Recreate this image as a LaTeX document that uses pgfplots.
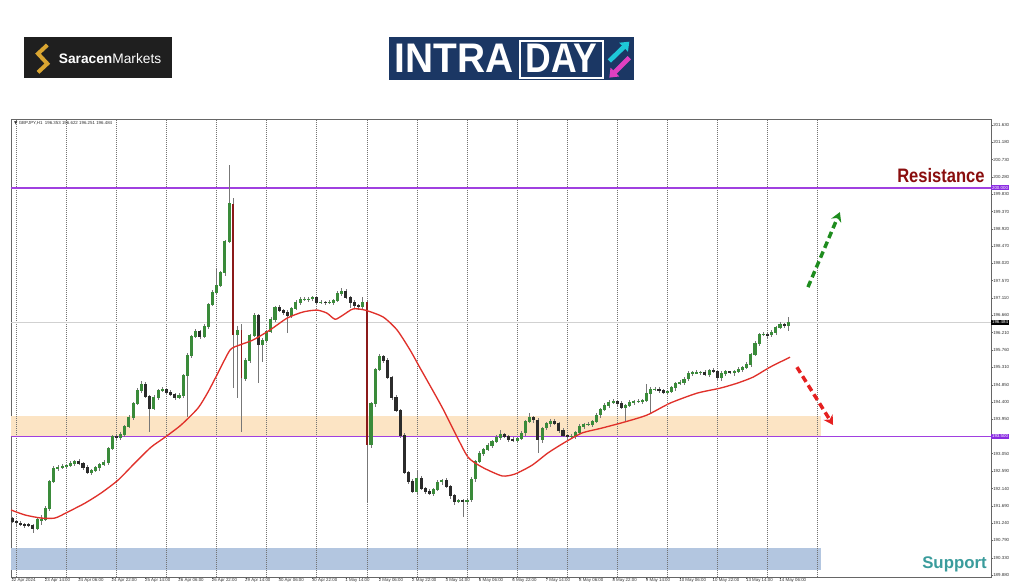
\documentclass[border=0pt]{standalone}
\usepackage{pgfplots}
\pgfplotsset{compat=1.18}
\usepackage{pgfplotstable}
\usepackage{fontspec}
\setmainfont{Liberation Sans}
\newfontfamily\dejavu{DejaVu Sans}
\usetikzlibrary{arrows.meta}
\definecolor{bull}{HTML}{3A8B3A}
\definecolor{bear}{HTML}{2B2B2B}
\definecolor{wick}{HTML}{777777}
\definecolor{bigbear}{HTML}{8B1A1A}
\definecolor{maRed}{HTML}{E0302A}
\definecolor{lvl}{HTML}{A040E0}
\definecolor{lvlbox}{HTML}{8A2BE2}
\definecolor{bandO}{HTML}{FCE4C4}
\definecolor{bandB}{HTML}{B3C6E0}
\definecolor{resist}{HTML}{8A0E0E}
\definecolor{supp}{HTML}{3A9C9C}
\definecolor{arrG}{HTML}{1E8C1E}
\definecolor{arrR}{HTML}{E52020}
\definecolor{navy}{HTML}{1B3764}
\definecolor{gold}{HTML}{D9A531}
\definecolor{cyanA}{HTML}{1EC8D8}
\definecolor{magA}{HTML}{E040C0}

\pgfplotsset{candle/.style={only marks, mark=*, mark size=0pt, mark options={draw opacity=0, fill opacity=0}, forget plot,
  error bars/.cd, y dir=both, y explicit, error mark=none}}

\pgfplotstableread{
x o h l c
0 191.35 191.41 191.23 191.27
2 191.27 191.31 191.17 191.24
4 191.24 191.30 191.17 191.21
6 191.21 191.25 191.12 191.19
8 191.19 191.25 191.13 191.17
10 191.17 191.21 190.98 191.10
12 191.10 191.38 191.06 191.32
14 191.32 191.45 191.20 191.33
16 191.33 191.68 191.29 191.62
18 191.62 192.36 191.55 192.32
20 192.32 192.73 192.28 192.67
22 192.67 192.76 192.60 192.70
24 192.70 192.78 192.66 192.72
26 192.72 192.78 192.65 192.74
28 192.74 192.86 192.70 192.80
30 192.80 192.89 192.73 192.85
32 192.85 192.91 192.75 192.79
34 192.79 192.83 192.63 192.70
36 192.70 192.76 192.53 192.57
38 192.57 192.65 192.50 192.61
40 192.61 192.74 192.57 192.68
42 192.68 192.80 192.61 192.76
44 192.76 192.89 192.72 192.83
46 192.83 193.23 192.76 193.19
48 193.19 193.55 193.15 193.49
50 193.49 193.53 193.39 193.46
52 193.46 193.61 193.42 193.55
54 193.55 193.80 193.48 193.76
56 193.76 194.05 193.72 193.99
58 193.99 194.40 193.92 194.36
60 194.36 194.76 194.32 194.70
62 194.70 194.95 194.63 194.87
64 194.87 194.93 194.51 194.55
66 194.55 194.59 193.62 194.24
68 194.24 194.57 194.20 194.51
70 194.51 194.73 194.44 194.69
72 194.69 194.78 194.65 194.72
74 194.72 194.76 194.58 194.65
76 194.65 194.71 194.55 194.59
78 194.59 194.63 194.44 194.51
80 194.51 194.64 194.47 194.58
82 194.58 195.14 194.51 195.10
84 195.10 195.67 194.01 195.61
86 195.61 196.15 195.54 196.11
88 196.11 196.31 196.07 196.25
90 196.25 196.29 196.04 196.11
92 196.11 196.44 196.07 196.38
94 196.38 196.99 196.31 196.95
96 196.95 197.32 196.91 197.26
98 197.26 197.88 197.19 197.44
100 197.44 197.83 197.40 197.77
102 197.77 198.64 197.70 198.60
104 198.60 200.58 198.56 199.58
106 199.58 199.72 194.76 196.15
108 196.15 196.39 194.50 196.27
110 196.27 196.43 193.62 195.02
112 195.02 195.55 194.95 195.49
114 195.49 196.17 195.42 196.13
116 196.13 196.73 196.09 196.67
118 196.67 196.71 194.90 195.89
120 195.89 196.06 195.45 196.00
122 196.00 196.29 195.93 196.25
124 196.25 196.61 196.21 196.55
126 196.55 196.91 196.48 196.87
128 196.87 196.93 196.74 196.78
130 196.78 196.82 196.66 196.73
132 196.73 196.79 196.20 196.67
134 196.67 196.88 196.60 196.84
136 196.84 197.07 196.80 197.01
138 197.01 197.13 196.94 197.09
140 197.09 197.15 197.05 197.09
142 197.09 197.13 197.02 197.09
144 197.09 197.18 197.05 197.12
146 197.12 197.16 196.93 197.00
148 197.00 197.07 196.96 197.01
150 197.01 197.05 196.93 197.00
152 197.00 197.06 196.96 197.00
154 197.00 197.10 196.93 197.06
156 197.06 197.29 197.02 197.23
158 197.23 197.37 197.16 197.29
160 197.29 197.35 197.08 197.12
162 197.12 197.16 196.85 197.01
164 197.01 197.07 196.82 196.91
166 196.91 196.95 196.81 196.88
168 196.88 197.14 196.84 197.01
170 197.01 197.05 191.79 193.28
172 193.28 194.40 193.20 194.35
174 194.35 195.28 194.28 195.24
176 195.24 195.66 195.20 195.60
178 195.60 195.64 195.42 195.49
180 195.49 195.55 194.99 195.03
182 195.03 195.07 194.44 194.51
184 194.51 194.57 194.13 194.17
186 194.17 194.21 193.46 193.53
188 193.53 193.59 192.52 192.56
190 192.56 192.60 192.25 192.32
192 192.32 192.38 192.02 192.06
194 192.06 192.62 191.99 192.41
196 192.41 192.47 192.10 192.14
198 192.14 192.18 192.00 192.07
200 192.07 192.13 191.98 192.02
202 192.02 192.16 191.95 192.12
204 192.12 192.37 192.08 192.31
206 192.31 192.40 192.24 192.36
208 192.36 192.42 192.15 192.19
210 192.19 192.23 191.88 191.95
212 191.95 192.01 191.72 191.81
214 191.81 191.86 191.75 191.82
216 191.82 191.88 191.39 191.80
218 191.80 191.88 191.70 191.84
220 191.84 192.45 191.80 192.39
222 192.39 192.88 192.32 192.84
224 192.84 193.12 192.80 193.06
226 193.06 193.21 193.00 193.17
228 193.17 193.33 193.13 193.27
230 193.27 193.42 193.20 193.38
232 193.38 193.53 193.34 193.47
234 193.47 193.66 193.40 193.54
236 193.54 193.60 193.47 193.51
238 193.51 193.55 193.36 193.43
240 193.43 193.49 193.35 193.39
242 193.39 193.48 193.32 193.44
244 193.44 193.65 193.40 193.59
246 193.59 193.93 193.52 193.89
248 193.89 194.10 193.85 194.00
250 194.00 194.04 193.86 193.93
252 193.93 193.99 193.07 193.41
254 193.41 193.76 193.34 193.72
256 193.72 193.89 193.68 193.83
258 193.83 193.96 193.76 193.90
260 193.90 193.96 193.80 193.84
262 193.84 193.88 193.58 193.65
264 193.65 193.71 193.49 193.53
266 193.53 193.57 193.42 193.49
268 193.49 193.57 193.45 193.51
270 193.51 193.64 193.44 193.60
272 193.60 193.83 193.56 193.77
274 193.77 193.85 193.70 193.81
276 193.81 193.88 193.77 193.82
278 193.82 193.93 193.75 193.89
280 193.89 194.12 193.85 194.06
282 194.06 194.24 193.99 194.20
284 194.20 194.37 194.16 194.31
286 194.31 194.44 194.24 194.40
288 194.40 194.48 194.36 194.42
290 194.42 194.46 194.29 194.36
292 194.36 194.42 194.21 194.25
294 194.25 194.35 193.90 194.31
296 194.31 194.46 194.27 194.40
298 194.40 194.46 194.33 194.42
300 194.42 194.48 194.38 194.42
302 194.42 194.48 194.35 194.44
304 194.44 194.86 194.40 194.62
306 194.62 194.80 194.10 194.74
308 194.74 194.80 194.70 194.74
310 194.74 194.78 194.64 194.71
312 194.71 194.75 194.62 194.66
314 194.66 194.72 194.59 194.68
316 194.68 194.83 194.64 194.77
318 194.77 194.92 194.70 194.88
320 194.88 194.97 194.84 194.91
322 194.91 195.04 194.84 195.00
324 195.00 195.20 194.96 195.14
326 195.14 195.21 195.07 195.17
328 195.17 195.23 195.13 195.17
330 195.17 195.22 195.11 195.18
332 195.18 195.24 195.09 195.13
334 195.13 195.26 195.06 195.22
336 195.22 195.28 195.16 195.20
338 195.20 195.24 194.98 195.05
340 195.05 195.21 194.95 195.15
342 195.15 195.23 195.08 195.19
344 195.19 195.22 195.12 195.16
346 195.16 195.24 195.09 195.20
348 195.20 195.31 195.16 195.25
350 195.25 195.33 195.18 195.29
352 195.29 195.45 195.25 195.39
354 195.39 195.67 195.32 195.63
356 195.63 195.98 195.59 195.92
358 195.92 196.20 195.85 196.16
360 196.16 196.23 196.12 196.17
362 196.17 196.21 196.08 196.15
364 196.15 196.28 196.11 196.22
366 196.22 196.39 196.15 196.35
368 196.35 196.49 196.31 196.43
370 196.43 196.47 196.32 196.39
372 196.39 196.62 196.25 196.48
}\candles

\pgfplotstableread{
x y
-0.5 191.58
6.2 191.45
13.9 191.37
20.6 191.37
26.8 191.53
35.0 191.76
42.6 192.02
50.8 192.36
58.9 192.81
66.6 193.22
73.3 193.48
81.0 193.80
89.1 194.24
93.9 194.66
98.7 195.16
104.5 195.76
109.2 195.89
115.5 196.02
123.6 196.28
131.8 196.59
139.4 196.75
146.1 196.80
150.9 196.72
154.8 196.56
158.6 196.67
163.4 196.83
169.1 196.80
177.8 196.62
184.5 196.28
190.7 195.76
195.5 195.29
197.9 195.06
206.0 194.27
212.3 193.59
218.5 192.96
225.2 192.70
234.8 192.47
241.0 192.52
249.2 192.75
256.8 193.07
265.0 193.35
273.1 193.59
282.7 193.72
293.7 193.88
304.3 194.06
315.3 194.37
328.2 194.63
339.2 194.76
347.4 194.89
355.1 195.05
363.2 195.31
372.8 195.57
}\ma

\begin{document}
\begin{tikzpicture}
\useasboundingbox (0,0) rectangle (768pt,440.25pt);
\fill[white] (0,0) rectangle (768pt,440.25pt);

% Saracen logo
\fill[black!88] (18pt,381.75pt) rectangle (129pt,412.5pt);
\draw[gold, line width=3pt, line join=miter] (35.5pt,406.5pt) -- (28.5pt,400pt) -- (35.5pt,392.5pt) -- (28.5pt,386pt);
\node[anchor=west, text=white, inner sep=0pt, font=\fontsize{10.3}{12}\selectfont] at (44pt,396.5pt) {\textbf{Saracen}Markets};

% Intraday logo
\fill[navy] (291.75pt,380.25pt) rectangle (475.5pt,412.5pt);
\node[anchor=base west, text=white, inner sep=0pt, font=\fontsize{31}{32}\selectfont\bfseries] at (296pt,385.5pt) {\scalebox{0.94}[1]{INTRA}};
\draw[white, line width=1.4pt] (390pt,381.5pt) rectangle (452pt,409.5pt);
\node[anchor=base, text=white, inner sep=0pt, font=\fontsize{31}{32}\selectfont\bfseries] at (421pt,385.5pt) {\scalebox{0.86}[1]{DAY}};
\draw[cyanA, line width=3.5pt, -{Triangle[length=6pt,width=9pt]}] (457pt,394.5pt) -- (472pt,409pt);
\draw[magA, line width=3.5pt, -{Triangle[length=6pt,width=9pt]}] (472pt,397pt) -- (457pt,382pt);

\begin{axis}[
  at={(8.25pt,7.5pt)}, anchor=south west,
  scale only axis, width=735pt, height=343.5pt,
  xmin=-0.5, xmax=469.1, ymin=189.83, ymax=201.79,
  axis line style={draw=black!60, line width=0.5pt},
  xtick={0,16,...,368},
  xticklabels={22 Apr 2024,23 Apr 14:00,24 Apr 06:00,24 Apr 22:00,25 Apr 14:00,26 Apr 06:00,26 Apr 22:00,29 Apr 14:00,30 Apr 06:00,30 Apr 22:00,1 May 14:00,2 May 06:00,2 May 22:00,3 May 14:00,6 May 06:00,6 May 22:00,7 May 14:00,8 May 06:00,8 May 22:00,9 May 14:00,10 May 06:00,10 May 22:00,13 May 14:00,14 May 06:00},
  xtick pos=bottom,
  xticklabel style={anchor=north west, xshift=-1pt, yshift=0.8pt, inner sep=0.4pt, text=black!80},
  ytick={201.63,201.18,200.73,200.28,199.83,199.37,198.92,198.47,198.02,197.57,197.11,196.66,196.21,195.76,195.31,194.85,194.40,193.95,193.05,192.59,192.14,191.69,191.24,190.79,190.33,189.88},
  yticklabels={201.630,201.180,200.730,200.280,199.830,199.370,198.920,198.470,198.020,197.570,197.110,196.660,196.210,195.760,195.310,194.850,194.400,193.950,193.050,192.590,192.140,191.690,191.240,190.790,190.330,189.880},
  ytick pos=right, yticklabel pos=right,
  yticklabel style={anchor=west, xshift=-0.5pt, inner sep=0.4pt, text=black!80},
  tick align=outside, major tick length=1.6pt,
  tick style={black!60, line width=0.4pt},
  tick label style={font=\fontsize{3.3}{4}\selectfont},
]
% zones
\addplot[draw=none, fill=bandO, forget plot] coordinates {(-0.5,193.51) (387.6,193.51) (387.6,194.03) (-0.5,194.03)} -- cycle;
\addplot[draw=none, fill=bandB, forget plot] coordinates {(-0.5,190.01) (387.6,190.01) (387.6,190.59) (-0.5,190.59)} -- cycle;
% grid
\pgfplotsinvokeforeach{2,26,50,74,98,122,146,170,194,218,242,266,290,314,338,362,386}{
  \draw[black!55, line width=0.35pt, dash pattern=on 0.6pt off 0.9pt] (axis cs:#1,189.83) -- (axis cs:#1,201.79);
}
% current price line
\addplot[black!18, line width=0.6pt, forget plot] coordinates {(-0.5,196.484) (469.1,196.484)};
% levels
\addplot[draw=lvl, line width=1.4pt, forget plot] coordinates {(-0.5,199.995) (469.1,199.995)};
\addplot[draw=lvl, line width=1.4pt, forget plot] coordinates {(-0.5,193.5) (469.1,193.5)};

% wicks
\addplot[candle, error bar style={line width=0.45pt, draw=wick}]
  table[x=x, y expr={0.5*(\thisrow{h}+\thisrow{l})}, y error expr={0.5*(\thisrow{h}-\thisrow{l})}] {\candles};
% bull bodies
\addplot[candle, error bar style={line width=2.3pt, draw=bull}]
  table[x=x, y expr={\thisrow{c}>=\thisrow{o} ? 0.5*(\thisrow{o}+\thisrow{c}) : nan}, y error expr={0.5*abs(\thisrow{c}-\thisrow{o})+0.012}] {\candles};
% bear bodies
\addplot[candle, error bar style={line width=2.3pt, draw=bear}]
  table[x=x, y expr={(\thisrow{c}<\thisrow{o}) && (\thisrow{o}-\thisrow{c}<1) ? 0.5*(\thisrow{o}+\thisrow{c}) : nan}, y error expr={0.5*abs(\thisrow{c}-\thisrow{o})+0.012}] {\candles};
% big bear bodies
\addplot[candle, error bar style={line width=1.3pt, draw=bigbear}]
  table[x=x, y expr={\thisrow{o}-\thisrow{c}>=1 ? 0.5*(\thisrow{o}+\thisrow{c}) : nan}, y error expr={0.5*abs(\thisrow{c}-\thisrow{o})}] {\candles};
% moving average
\addplot[maRed, line width=1.0pt, smooth, tension=0.4, forget plot] table[x=x, y=y] {\ma};

% arrows
\draw[arrG, line width=2.6pt, dash pattern=on 5pt off 3pt, -{Stealth[length=7pt,width=8pt]}] (axis cs:381.4,197.40) -- (axis cs:396.7,199.36);
\draw[arrR, line width=2.6pt, dash pattern=on 5pt off 3pt, -{Stealth[length=7pt,width=8pt]}] (axis cs:376.1,195.31) -- (axis cs:393.4,193.80);

\coordinate (rRes) at (axis cs:469.1,200);
\coordinate (rSup) at (axis cs:469.1,193.5);
\coordinate (rCur) at (axis cs:469.1,196.484);
\coordinate (tl) at (axis cs:-0.5,201.79);
\end{axis}

% header text
\node[anchor=north west, inner sep=0pt, font=\fontsize{3.3}{4}\selectfont, text=black!80] at ([xshift=2.2pt,yshift=-1.6pt]tl) {{\dejavu ▼} GBPJPY,H1\ \ 196.353 196.622 196.251 196.484};

% price highlight labels
\node[anchor=west, fill=lvlbox, text=white, inner sep=0.6pt, font=\fontsize{3.3}{4}\selectfont] at (rRes) {200.000};
\node[anchor=west, fill=lvlbox, text=white, inner sep=0.6pt, font=\fontsize{3.3}{4}\selectfont] at (rSup) {193.500};
\node[anchor=west, fill=black, text=white, inner sep=0.6pt, font=\fontsize{3.3}{4}\selectfont] at (rCur) {196.484};

% annotations
\node[anchor=base west, inner sep=0pt, text=resist, font=\fontsize{14.6}{16}\selectfont\bfseries] at (672.75pt,303.75pt) {\scalebox{0.85}[1]{Resistance}};
\node[anchor=base west, inner sep=0pt, text=supp, font=\fontsize{12.6}{14}\selectfont\bfseries] at (691.5pt,14.25pt) {Support};
\end{tikzpicture}
\end{document}
